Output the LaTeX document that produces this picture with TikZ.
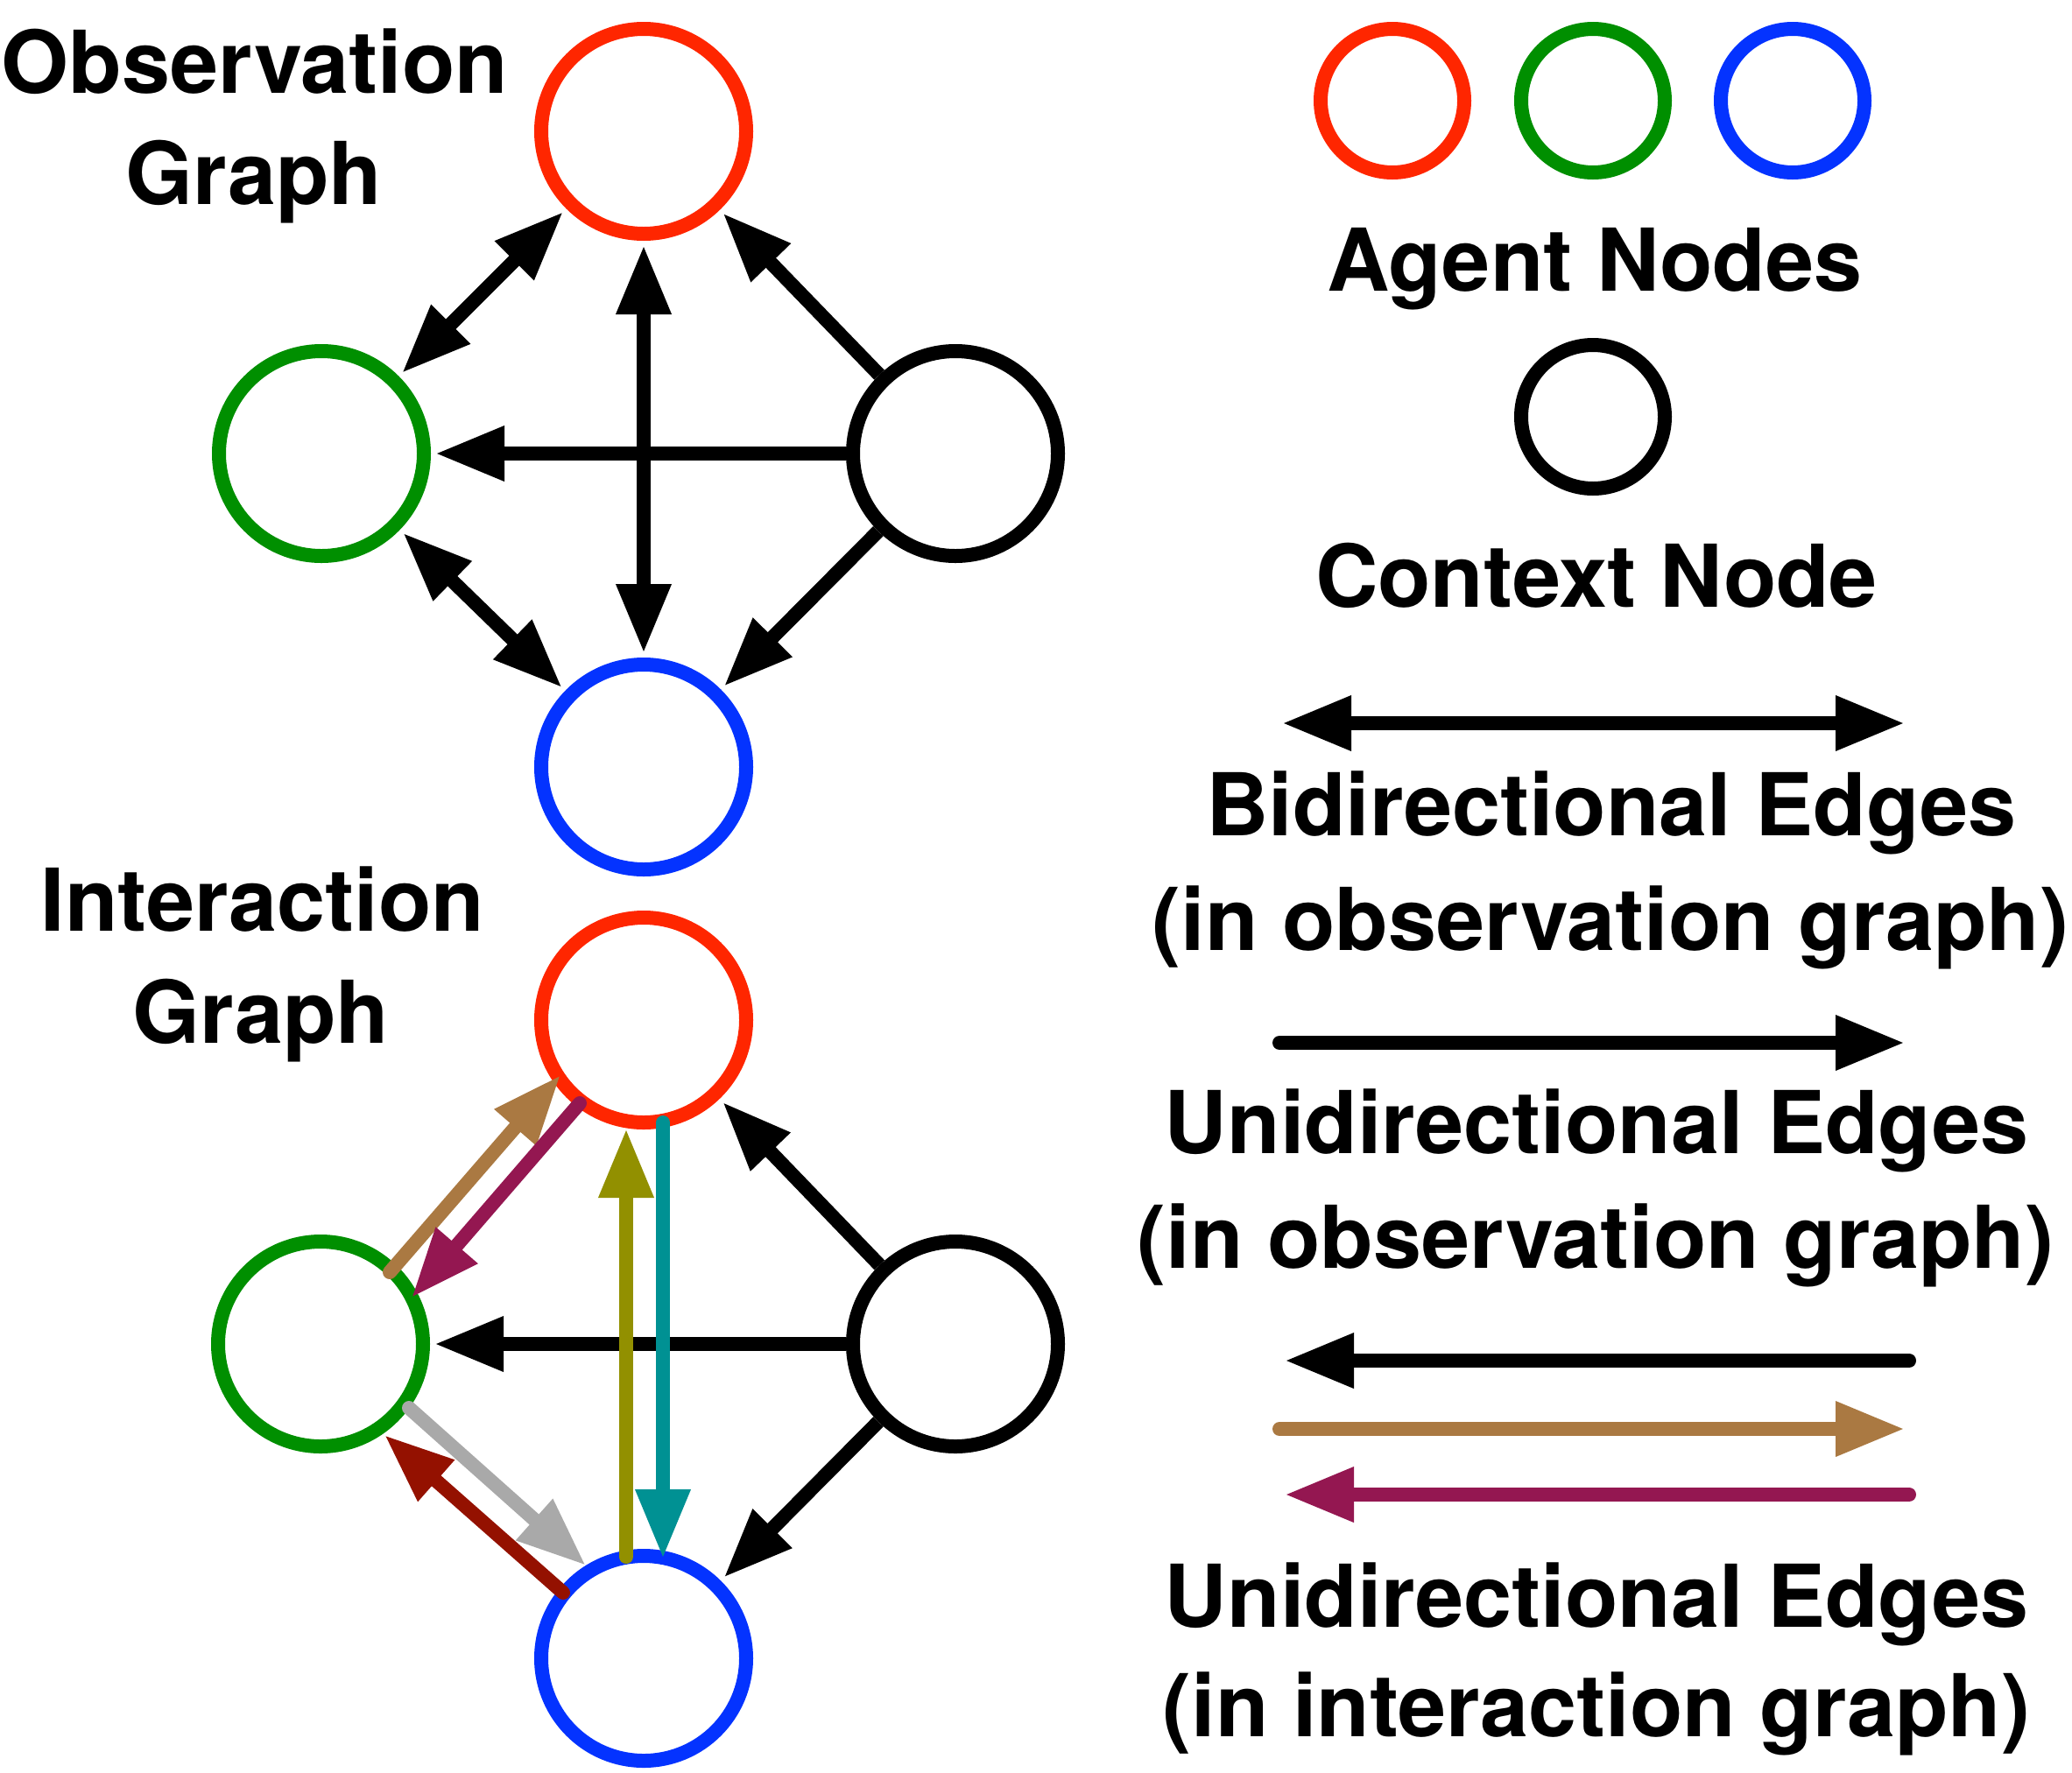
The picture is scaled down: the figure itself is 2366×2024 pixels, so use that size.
\documentclass[tikz,border=0pt]{standalone}
\usepackage{fontspec}
\setmainfont{TeX Gyre Heros}
\usetikzlibrary{arrows.meta,calc}
\definecolor{cRed}{HTML}{FF2600}
\definecolor{cGreen}{HTML}{008F00}
\definecolor{cBlue}{HTML}{0433FF}
\definecolor{cBrown}{HTML}{AA7942}
\definecolor{cPlum}{HTML}{941751}
\definecolor{cOlive}{HTML}{929000}
\definecolor{cTeal}{HTML}{009193}
\definecolor{cGray}{HTML}{A9A9A9}
\definecolor{cMaroon}{HTML}{941100}
\begin{document}
\begin{tikzpicture}[x=1pt,y=-1pt,
  >={Triangle[length=79pt,width=59pt]},
  gnode/.style={circle,draw=#1,line width=16pt,minimum size=234pt,inner sep=0pt},
  lnode/.style={circle,draw=#1,line width=16pt,minimum size=164pt,inner sep=0pt},
  bk/.style={draw=black,line width=16pt,line cap=butt,shorten >=5pt},
  bkb/.style={draw=black,line width=16pt,line cap=butt,shorten >=5pt,shorten <=5pt},
  ce/.style={draw=#1,line width=16pt,line cap=round,->},
  lg/.style={draw=#1,line width=16pt,line cap=round},
  lbl/.style={font=\fontsize{99}{119}\selectfont\bfseries,anchor=base,inner sep=0pt}
]
\useasboundingbox (0,0) rectangle (2366,2024);

% ---------- Observation graph ----------
\node[lbl] (t1) at (291,106) {Observation};
\node[lbl] (t2) at (290,233) {Graph};
\node[gnode=cRed]   (tr) at (735,150) {};
\node[gnode=cGreen] (tg) at (367,518) {};
\node[gnode=black]  (tc) at (1091,518) {};
\node[gnode=cBlue]  (tb) at (735,876) {};
\draw[bkb,<->] (tg) -- (tr);
\draw[bkb,<->] (tg) -- (tb);
\draw[bk,->] (tc) -- (tr);
\draw[bk,->] (tc) -- (tg);
\draw[bk,->] (tc) -- (tb);
\draw[bkb,<->] (tr) -- (tb);

% ---------- Interaction graph ----------
\node[lbl] (t3) at (300,1063) {Interaction};
\node[lbl] (t4) at (298,1191) {Graph};
\node[gnode=cRed]   (br) at (735,1165) {};
\node[gnode=cGreen] (bg) at (366,1535) {};
\node[gnode=black]  (bc) at (1091,1535) {};
\node[gnode=cBlue]  (bb) at (735,1894) {};
\draw[bk,->] (bc) -- (br);
\draw[bk,->] (bc) -- (bg);
\draw[bk,->] (bc) -- (bb);
\draw[ce=cBrown]  ($(bg)+(79,-82)$) -- ($(br)+(-95,63)$);
\draw[ce=cPlum]   ($(br)+(-73,95)$) -- ($(bg)+(104,-53)$);
\draw[ce=cOlive]  ($(bb)+(-20,-116)$) -- ($(br)+(-20,124)$);
\draw[ce=cTeal]   ($(br)+(22,117)$) -- ($(bb)+(22,-114)$);
\draw[ce=cGray]   ($(bg)+(101,73)$) -- ($(bb)+(-66,-106)$);
\draw[ce=cMaroon] ($(bb)+(-92,-75)$) -- ($(bg)+(73,104)$);

% ---------- Legend ----------
\node[lnode=cRed]   (l1) at (1590,115) {};
\node[lnode=cGreen] (l2) at (1819,115) {};
\node[lnode=cBlue]  (l3) at (2047,115) {};
\node[lbl] (t5) at (1821,332) {Agent Nodes};
\node[lnode=black]  (l4) at (1819,476) {};
\node[lbl] (t6) at (1823,693) {Context Node};

\coordinate (a1) at (1464,826);
\coordinate (a2) at (2175,826);
\draw[lg=black,line cap=butt,<->] (a1) -- (a2);
\node[lbl] (t7) at (1840,954) {Bidirectional Edges};
\node[lbl] (t8) at (1839,1085) {(in observation graph)};

\coordinate (u1) at (1461,1191);
\coordinate (u2) at (2175,1191);
\draw[lg=black,->] (u1) -- (u2);
\node[lbl] (t9) at (1823,1317) {Unidirectional Edges};
\node[lbl] (t10) at (1822,1448) {(in observation graph)};

\coordinate (k1) at (2180,1554);
\coordinate (k2) at (1467,1554);
\draw[lg=black,->] (k1) -- (k2);
\coordinate (w1) at (1461,1632);
\coordinate (w2) at (2175,1632);
\draw[lg=cBrown,->] (w1) -- (w2);
\coordinate (p1) at (2180,1707);
\coordinate (p2) at (1467,1707);
\draw[lg=cPlum,->] (p1) -- (p2);
\node[lbl] (t11) at (1823,1858) {Unidirectional Edges};
\node[lbl] (t12) at (1823,1983) {(in interaction graph)};
\end{tikzpicture}
\end{document}
